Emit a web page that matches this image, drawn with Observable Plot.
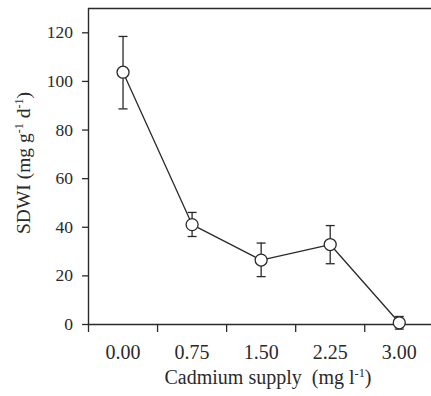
<!DOCTYPE html>
<html>
<head>
<meta charset="utf-8">
<script src="https://cdn.jsdelivr.net/npm/d3@7"></script>
<script src="https://cdn.jsdelivr.net/npm/@observablehq/plot@0.6"></script>
<style>
  html, body { margin: 0; padding: 0; background: #fff; }
  #chart svg { display: block; }
  #chart svg, #chart svg text, #chart svg tspan {
    font-family: "Liberation Serif", "Times New Roman", serif !important;
  }
</style>
</head>
<body>
<div id="chart"></div>
<script>
// Data
const cadmium = [0.00, 0.75, 1.50, 2.25, 3.00];
const sdwi    = [103.8, 41.1, 26.5, 32.9, 0.7];
const errHigh = [118.5, 46.1, 33.5, 40.7, 3.3];
const errLow  = [88.7, 36.2, 19.7, 25.0, -1.9];
const yTicks  = [0, 20, 40, 60, 80, 100, 120];
const yLabel  = ["SDWI (mg g", "-1", " d", "-1", ")"];
const xLabel  = ["Cadmium supply  (mg l", "-1", ")"];

const data = cadmium.map((c, i) => ({ c, y: sdwi[i], hi: errHigh[i], lo: errLow[i] }));
const bounds = cadmium.map(v => v - 0.375);

const ink = "#2a2a2a";
const font = "'Liberation Serif', 'Times New Roman', serif";

const cap = { draw(ctx) { ctx.moveTo(-4.5, 0); ctx.lineTo(4.5, 0); } };

const chart = Plot.plot({
  width: 431,
  height: 396,
  marginLeft: 88,
  marginRight: 0,
  marginTop: 8,
  marginBottom: 72,
  style: { fontFamily: font, color: ink, background: "#fff", overflow: "visible" },
  x: { type: "linear", domain: [-0.375, 3.35] },
  y: { domain: [0, 130] },
  marks: [
    Plot.axisY({ ticks: yTicks, tickSize: 6, tickPadding: 9.5, fontSize: 17.5, label: null, stroke: ink, strokeWidth: 1.3 }),
    Plot.axisX({ ticks: bounds, tickSize: 8, tickFormat: () => "", label: null, stroke: ink, strokeWidth: 1.3 }),
    Plot.axisX({ ticks: cadmium, tickSize: 0, tickPadding: 20, fontSize: 20, tickFormat: d => d.toFixed(2), label: null }),
    Plot.ruleX([-0.375], { stroke: ink, strokeWidth: 1.4 }),
    Plot.ruleY([0], { stroke: ink, strokeWidth: 1.4 }),
    Plot.ruleY([130], { stroke: ink, strokeWidth: 1.4 }),
    Plot.ruleX(data, { x: "c", y1: "lo", y2: "hi", stroke: ink, strokeWidth: 1.3 }),
    Plot.dot(data, { x: "c", y: "hi", symbol: cap, stroke: ink, strokeWidth: 1.3, fill: "none", r: 4 }),
    Plot.dot(data, { x: "c", y: "lo", symbol: cap, stroke: ink, strokeWidth: 1.3, fill: "none", r: 4 }),
    Plot.line(data, { x: "c", y: "y", stroke: ink, strokeWidth: 1.3 }),
    Plot.dot(data, { x: "c", y: "y", r: 6, fill: "white", stroke: ink, strokeWidth: 1.3 })
  ]
});

document.getElementById("chart").appendChild(chart);

const svg = d3.select(chart);
function addLabel(parts, attrs, size) {
  const t = svg.append("text")
    .attr("font-size", size)
    .attr("fill", ink)
    .attr("text-anchor", "middle");
  for (const [k, v] of Object.entries(attrs)) t.attr(k, v);
  parts.forEach((p) => {
    const sup = p.startsWith("-");
    t.append("tspan")
      .attr("font-size", sup ? size * 0.62 : size)
      .attr("baseline-shift", sup ? "super" : null)
      .style("white-space", "pre")
      .text(p);
  });
  return t;
}
addLabel(yLabel, { transform: "translate(30,163) rotate(-90)" }, 19.5);
addLabel(xLabel, { x: 268, y: 384 }, 20);
</script>
</body>
</html>
